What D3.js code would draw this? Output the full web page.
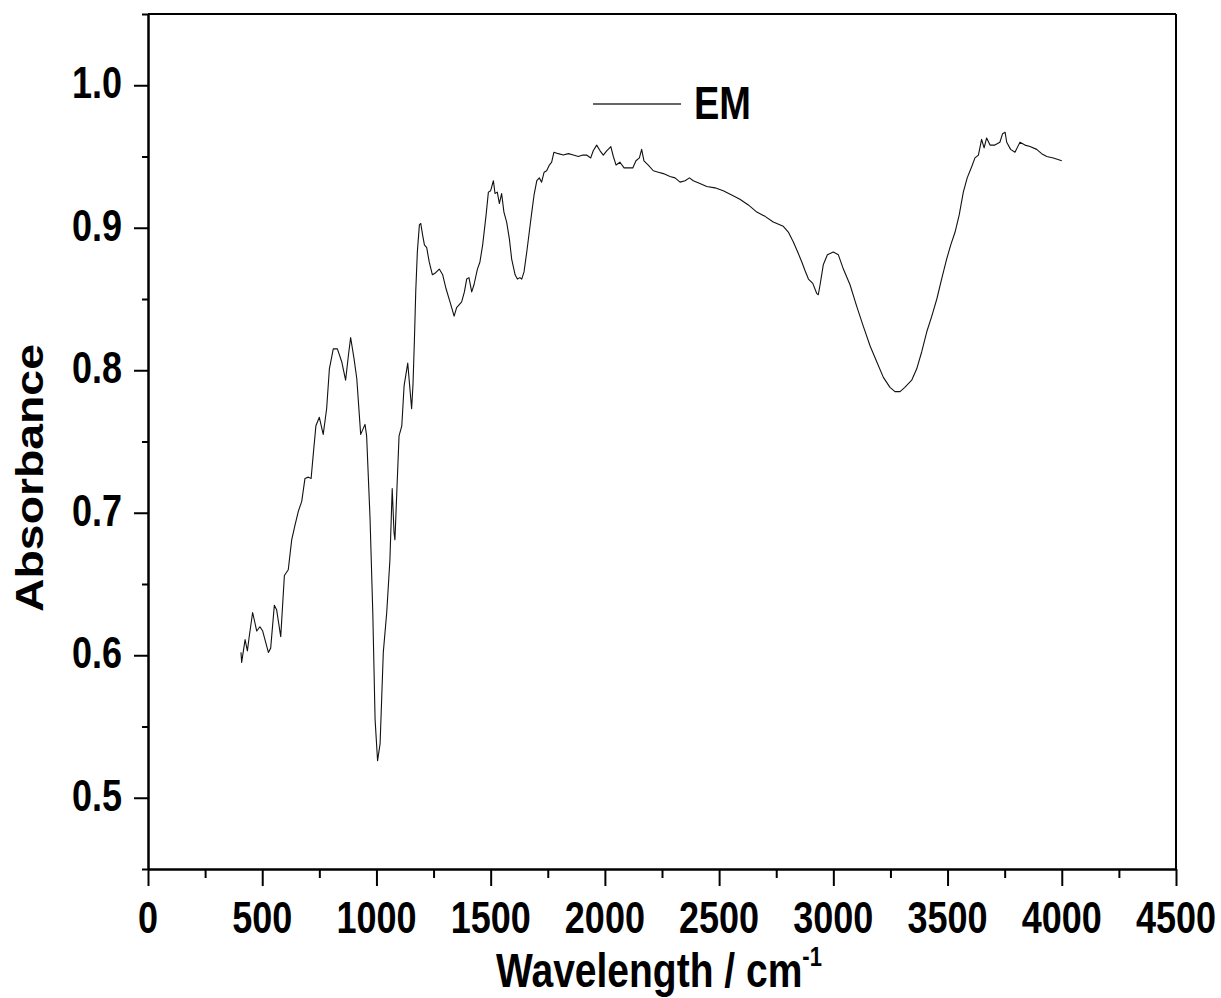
<!DOCTYPE html>
<html>
<head>
<meta charset="utf-8">
<script src="https://cdn.jsdelivr.net/npm/d3@7"></script>
<style>
  html, body { margin: 0; padding: 0; background: #fff; }
  svg { display: block; }
  text { font-family: "Liberation Sans", Arial, sans-serif; font-weight: bold; fill: #000; }
</style>
</head>
<body>
<svg id="chart" width="1221" height="998"></svg>
<script>
const seriesName = "EM";
const wavenumbers = [407,410,425,435,443,458,476,490,502,527,537,553,563,581,597,614,629,643,658,673,687,702,714,724,735,750,767,782,794,811,829,848,865,877,887,902,914,931,950,957,972,984,994,1005,1016,1030,1045,1059,1069,1077,1081,1089,1099,1111,1121,1137,1154,1160,1166,1172,1179,1188,1194,1202,1210,1220,1231,1245,1256,1275,1290,1305,1322,1340,1351,1373,1385,1395,1405,1417,1427,1442,1453,1465,1480,1490,1500,1512,1519,1529,1538,1548,1558,1570,1582,1592,1607,1617,1628,1636,1646,1658,1669,1680,1690,1702,1713,1723,1734,1745,1757,1767,1777,1796,1818,1840,1862,1884,1903,1920,1938,1949,1964,1979,1993,2008,2026,2037,2049,2066,2084,2103,2122,2136,2151,2161,2171,2190,2212,2234,2256,2285,2307,2329,2351,2370,2387,2416,2446,2482,2518,2555,2591,2628,2665,2701,2737,2781,2803,2825,2844,2862,2876,2891,2910,2927,2934,2942,2956,2974,3000,3022,3044,3073,3102,3131,3161,3190,3219,3248,3270,3292,3313,3343,3365,3387,3409,3431,3453,3474,3496,3514,3533,3551,3569,3586,3606,3620,3635,3649,3660,3671,3686,3707,3729,3741,3752,3759,3776,3795,3817,3839,3861,3890,3912,3934,3963,4000];
const absorbance = [0.602,0.595,0.611,0.603,0.613,0.630,0.617,0.620,0.617,0.602,0.605,0.635,0.632,0.613,0.656,0.660,0.681,0.691,0.701,0.708,0.724,0.725,0.724,0.742,0.761,0.767,0.755,0.773,0.801,0.815,0.815,0.806,0.793,0.810,0.823,0.808,0.794,0.755,0.762,0.754,0.696,0.630,0.555,0.526,0.538,0.602,0.630,0.667,0.717,0.686,0.681,0.714,0.754,0.761,0.789,0.805,0.773,0.790,0.820,0.855,0.883,0.902,0.903,0.895,0.888,0.886,0.876,0.867,0.868,0.871,0.867,0.857,0.848,0.838,0.844,0.848,0.855,0.864,0.865,0.855,0.860,0.871,0.876,0.888,0.909,0.925,0.926,0.933,0.924,0.925,0.917,0.924,0.911,0.904,0.892,0.878,0.867,0.864,0.865,0.864,0.869,0.883,0.897,0.911,0.923,0.933,0.935,0.932,0.939,0.940,0.944,0.946,0.953,0.952,0.951,0.952,0.951,0.950,0.951,0.951,0.949,0.954,0.958,0.954,0.951,0.954,0.957,0.950,0.944,0.946,0.942,0.942,0.942,0.947,0.949,0.955,0.947,0.944,0.940,0.939,0.938,0.936,0.935,0.932,0.933,0.935,0.933,0.931,0.929,0.928,0.926,0.923,0.920,0.916,0.911,0.908,0.904,0.901,0.897,0.890,0.883,0.876,0.870,0.864,0.861,0.854,0.853,0.860,0.874,0.881,0.883,0.881,0.871,0.860,0.845,0.831,0.817,0.806,0.795,0.788,0.785,0.785,0.788,0.793,0.801,0.813,0.827,0.838,0.850,0.864,0.878,0.888,0.897,0.909,0.925,0.935,0.943,0.949,0.951,0.962,0.956,0.963,0.958,0.958,0.960,0.966,0.967,0.960,0.955,0.953,0.960,0.958,0.957,0.955,0.952,0.950,0.949,0.947];

const xMajorTicks = [0,500,1000,1500,2000,2500,3000,3500,4000,4500];
const xMinorTicks = [250,750,1250,1750,2250,2750,3250,3750,4250];
const yMajorTicks = [0.5,0.6,0.7,0.8,0.9,1.0];
const yMinorTicks = [0.45,0.55,0.65,0.75,0.85,0.95,1.05];
const yTickLabels = ["0.5","0.6","0.7","0.8","0.9","1.0"];
const xTitle = "Wavelength / cm";
const xTitleSup = "-1";
const yTitle = "Absorbance";

const svg = d3.select("#chart");
const L = 148, R = 1176, T = 14, B = 869;
const SY = 1.22; // vertical stretch of the text in the reference

const x = d3.scaleLinear().domain([0, 4500]).range([L, R]);
const y = d3.scaleLinear().domain([0.45, 1.05]).range([B, T]);

svg.append("rect").attr("width", 1221).attr("height", 998).attr("fill", "#fff");

// curve
const data = wavenumbers.map((w, i) => ({w, a: absorbance[i]}));
svg.append("path")
  .datum(data)
  .attr("fill", "none")
  .attr("stroke", "#111")
  .attr("stroke-width", 1.1)
  .attr("stroke-linejoin", "round")
  .attr("d", d3.line().x(d => x(d.w)).y(d => y(d.a)));

// frame top and right
svg.append("line").attr("x1", L).attr("x2", R).attr("y1", T).attr("y2", T).attr("stroke", "#000").attr("stroke-width", 2);
svg.append("line").attr("x1", R).attr("x2", R).attr("y1", T).attr("y2", B).attr("stroke", "#000").attr("stroke-width", 2);

function styleAxis(g) {
  g.select(".domain").attr("stroke", "#000").attr("stroke-width", 2);
  g.selectAll(".tick line").attr("stroke", "#000").attr("stroke-width", 2);
  g.selectAll(".tick text").remove();
}

svg.append("g").attr("transform", `translate(0,${B})`)
  .call(d3.axisBottom(x).tickValues(xMinorTicks).tickSize(9).tickSizeOuter(0).tickFormat(""))
  .call(styleAxis);
svg.append("g").attr("transform", `translate(0,${B})`)
  .call(d3.axisBottom(x).tickValues(xMajorTicks).tickSize(17).tickSizeOuter(0).tickFormat(""))
  .call(styleAxis);
svg.append("g").attr("transform", `translate(${L},0)`)
  .call(d3.axisLeft(y).tickValues(yMinorTicks).tickSize(6).tickSizeOuter(0).tickFormat(""))
  .call(styleAxis);
svg.append("g").attr("transform", `translate(${L},0)`)
  .call(d3.axisLeft(y).tickValues(yMajorTicks).tickSize(14).tickSizeOuter(0).tickFormat(""))
  .call(styleAxis);

// tick labels
svg.append("g").selectAll("text").data(xMajorTicks).join("text")
  .attr("transform", d => `translate(${x(d)},${B + 64}) scale(1,${SY})`)
  .attr("text-anchor", "middle")
  .attr("font-size", 36)
  .text(d => String(d));

svg.append("g").selectAll("text").data(yMajorTicks).join("text")
  .attr("transform", d => `translate(122,${y(d) + 13}) scale(1,${SY})`)
  .attr("text-anchor", "end")
  .attr("font-size", 36)
  .text((d, i) => yTickLabels[i]);

// axis titles
const xt = svg.append("text")
  .attr("transform", `translate(${(495 + 823) / 2},987) scale(1,${SY})`)
  .attr("text-anchor", "middle")
  .attr("font-size", 39);
xt.append("tspan").text(xTitle);
xt.append("tspan").attr("font-size", 22).attr("dy", -17).text(xTitleSup);

svg.append("text")
  .attr("transform", `translate(43,478) scale(1,${SY}) rotate(-90)`)
  .attr("text-anchor", "middle")
  .attr("font-size", 38)
  .text(yTitle);

// legend
svg.append("line").attr("x1", 593).attr("x2", 681).attr("y1", 104).attr("y2", 104)
  .attr("stroke", "#333").attr("stroke-width", 1.5);
svg.append("text")
  .attr("transform", `translate(694,119) scale(1,${SY})`)
  .attr("font-size", 38)
  .text(seriesName);
</script>
</body>
</html>
